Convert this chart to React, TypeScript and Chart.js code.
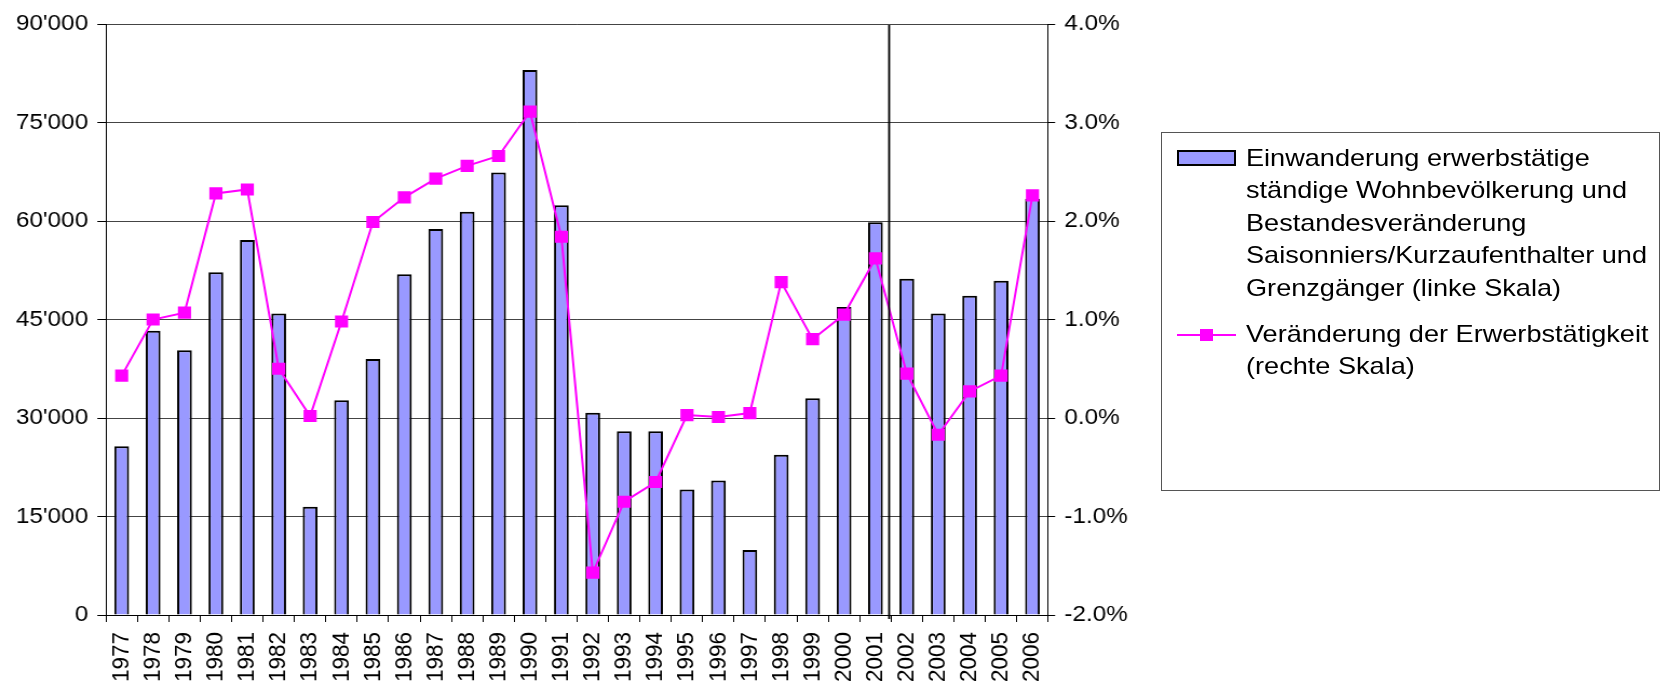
import React, { useEffect, useRef } from "react";
import { Chart, registerables } from "chart.js";

Chart.register(...registerables);

const years = [
  "1977", "1978", "1979", "1980", "1981", "1982", "1983", "1984", "1985", "1986",
  "1987", "1988", "1989", "1990", "1991", "1992", "1993", "1994", "1995", "1996",
  "1997", "1998", "1999", "2000", "2001", "2002", "2003", "2004", "2005", "2006",
];

const immigration = [
  25700, 43300, 40300, 52200, 57100, 45900, 16500, 32700, 39000, 51900,
  58800, 61400, 67400, 83000, 62400, 30800, 28000, 28000, 19100, 20500,
  9900, 24400, 33000, 46900, 59800, 51200, 45900, 48600, 50900, 63400,
];

const employmentChange = [
  0.43, 1.0, 1.07, 2.28, 2.32, 0.5, 0.02, 0.98, 1.99, 2.24,
  2.43, 2.56, 2.66, 3.11, 1.84, -1.57, -0.85, -0.65, 0.03, 0.01,
  0.05, 1.38, 0.8, 1.05, 1.62, 0.45, -0.17, 0.27, 0.43, 2.26,
];

const leftAxisRange = [0, 90000, 15000];
const rightAxisRange = [-2, 4, 1];
const dividerBeforeYear = "2002";

const barLegendLines = [
  "Einwanderung erwerbstätige",
  "ständige Wohnbevölkerung und",
  "Bestandesveränderung",
  "Saisonniers/Kurzaufenthalter und",
  "Grenzgänger (linke Skala)",
];
const lineLegendLines = ["Veränderung der Erwerbstätigkeit", "(rechte Skala)"];

const BAR_COLOR = "#9999FF";
const LINE_COLOR = "#FF00FF";
const FONT = "'Liberation Sans', Arial, sans-serif";

const W = 1666;
const H = 687;
// the reference picture is slightly wider than tall in its glyphs: draw at a
// narrower internal width and stretch the canvas horizontally
const S = 1.08;
const CW = Math.round(W / S);

function fmtThousands(v: number): string {
  return String(Math.round(v)).replace(/\B(?=(\d{3})+(?!\d))/g, "'");
}

const dividerPlugin = {
  id: "divider",
  afterDatasetsDraw(chart: any) {
    const xs = chart.scales.x;
    const area = chart.chartArea;
    const idx = years.indexOf(dividerBeforeYear);
    if (idx < 1) return;
    const px = (xs.getPixelForValue(idx - 1) + xs.getPixelForValue(idx)) / 2 - 2 / S;
    const ctx = chart.ctx;
    ctx.save();
    ctx.strokeStyle = "#000";
    ctx.lineWidth = 2 / S;
    ctx.beginPath();
    ctx.moveTo(px, area.top + 1);
    ctx.lineTo(px, area.bottom + 4);
    ctx.stroke();
    ctx.restore();
  },
};

export default function App() {
  const canvasRef = useRef<HTMLCanvasElement | null>(null);

  useEffect(() => {
    const canvas = canvasRef.current;
    if (!canvas) return;
    const tickFont = { family: FONT, size: 22.5 };
    const leftAxisPx = 106;
    const rightAxisPx = 1048;
    const chart = new Chart(canvas, {
      type: "bar",
      data: {
        labels: years,
        datasets: [
          {
            type: "line",
            label: lineLegendLines.join(" "),
            data: employmentChange,
            yAxisID: "y1",
            borderColor: LINE_COLOR,
            backgroundColor: LINE_COLOR,
            borderWidth: 2,
            pointStyle: "rect",
            pointRadius: 8.6,
            pointBorderWidth: 0,
            pointBackgroundColor: LINE_COLOR,
            tension: 0,
            order: 0,
          } as any,
          {
            type: "bar",
            label: barLegendLines.join(" "),
            data: immigration,
            yAxisID: "y",
            backgroundColor: BAR_COLOR,
            borderColor: "#000",
            borderWidth: 2,
            barPercentage: 0.47,
            categoryPercentage: 1,
            order: 1,
          } as any,
        ],
      },
      options: {
        responsive: false,
        animation: false,
        devicePixelRatio: 1,
        layout: { padding: { top: 24, left: 0, right: 0, bottom: 0 } },
        plugins: {
          legend: { display: false },
          tooltip: { enabled: false },
        },
        scales: {
          x: {
            offset: true,
            grid: {
              offset: true,
              drawOnChartArea: false,
              tickLength: 7,
              tickColor: "#000",
              lineWidth: 1,
            },
            border: { color: "#000", width: 1 },
            ticks: {
              font: tickFont,
              color: "#000",
              minRotation: 90,
              maxRotation: 90,
              padding: 10,
              autoSkip: false,
            },
            afterFit(scale: any) {
              scale.height = 72;
            },
          },
          y: {
            position: "left",
            min: leftAxisRange[0],
            max: leftAxisRange[1],
            grid: {
              color: "#444",
              lineWidth: 1,
              tickLength: 8,
              tickColor: "#000",
            },
            border: { color: "#000", width: 1 },
            ticks: {
              stepSize: leftAxisRange[2],
              font: tickFont,
              color: "#000",
              padding: 8.5,
              callback: (v: any) => fmtThousands(Number(v)),
            },
            afterFit(scale: any) {
              scale.width = leftAxisPx / S;
            },
          },
          y1: {
            position: "right",
            min: rightAxisRange[0],
            max: rightAxisRange[1],
            grid: {
              drawOnChartArea: false,
              tickLength: 6.5,
              tickColor: "#000",
            },
            border: { color: "#000", width: 1 },
            ticks: {
              stepSize: rightAxisRange[2],
              font: tickFont,
              color: "#000",
              padding: 8.5,
              callback: (v: any) => Number(v).toFixed(1) + "%",
            },
            afterFit(scale: any) {
              scale.width = (W - rightAxisPx) / S;
            },
          },
        },
      },
      plugins: [dividerPlugin],
    });
    return () => chart.destroy();
  }, []);

  const textStyle: React.CSSProperties = {
    position: "absolute",
    left: 1246,
    fontFamily: FONT,
    fontSize: 24,
    lineHeight: "32.5px",
    color: "#000",
    whiteSpace: "nowrap",
    transform: "scaleX(1.13)",
    transformOrigin: "0 0",
  };

  return (
    <div style={{ position: "absolute", left: 0, top: 0, width: W, height: H, background: "#fff", overflow: "hidden" }}>
      <canvas
        ref={canvasRef}
        width={CW}
        height={H}
        style={{ position: "absolute", left: 0, top: 0, width: W + "px", height: H + "px" }}
      />
      <div
        style={{
          position: "absolute",
          left: 1161,
          top: 132,
          width: 499,
          height: 359,
          boxSizing: "border-box",
          border: "1.5px solid #555",
        }}
      />
      <div
        style={{
          position: "absolute",
          left: 1177,
          top: 150,
          width: 59,
          height: 16,
          boxSizing: "border-box",
          background: BAR_COLOR,
          border: "2px solid #000",
        }}
      />
      <div style={{ ...textStyle, top: 141.5 }}>
        {barLegendLines.map((l, i) => (
          <div key={i}>{l}</div>
        ))}
      </div>
      <div style={{ position: "absolute", left: 1177, top: 334, width: 59, height: 2, background: LINE_COLOR }} />
      <div style={{ position: "absolute", left: 1200, top: 329, width: 13, height: 12, background: LINE_COLOR }} />
      <div style={{ ...textStyle, top: 317.5 }}>
        {lineLegendLines.map((l, i) => (
          <div key={i}>{l}</div>
        ))}
      </div>
    </div>
  );
}
